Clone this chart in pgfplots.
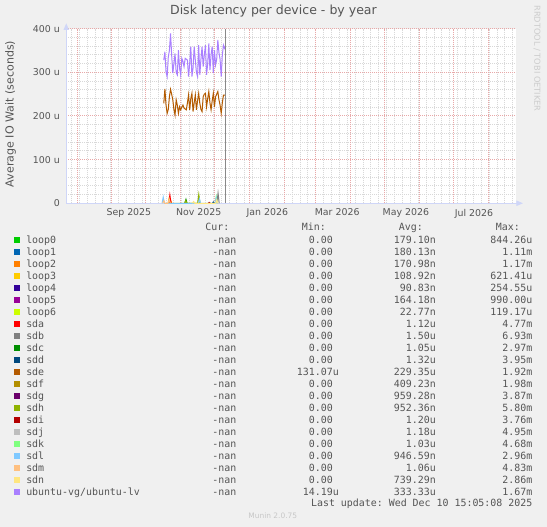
\documentclass[border=0pt]{standalone}
\usepackage{fontspec}
\setmainfont{DejaVu Sans}
\setmonofont{DejaVu Sans Mono}
\usepackage{pgfplots}
\pgfplotsset{compat=1.18}
\usetikzlibrary{arrows.meta}

\definecolor{bg}{HTML}{F0F0F0}
\definecolor{fontc}{HTML}{555555}
\definecolor{axisc}{HTML}{CFD6F8}
\definecolor{mgrid}{HTML}{E8A8A8}
\definecolor{ngrid}{HTML}{D8D8D8}
\definecolor{nowc}{HTML}{888888}
% munin palette
\definecolor{cloopA}{HTML}{00CC00}
\definecolor{cloopB}{HTML}{0066B3}
\definecolor{cloopC}{HTML}{FF8000}
\definecolor{cloopD}{HTML}{FFCC00}
\definecolor{cloopE}{HTML}{330099}
\definecolor{cloopF}{HTML}{990099}
\definecolor{cloopG}{HTML}{CCFF00}
\definecolor{csda}{HTML}{FF0000}
\definecolor{csdb}{HTML}{808080}
\definecolor{csdc}{HTML}{008F00}
\definecolor{csdd}{HTML}{00487D}
\definecolor{csde}{HTML}{B35A00}
\definecolor{csdf}{HTML}{B38F00}
\definecolor{csdg}{HTML}{6B006B}
\definecolor{csdh}{HTML}{8FB300}
\definecolor{csdi}{HTML}{B30000}
\definecolor{csdj}{HTML}{BEBEBE}
\definecolor{csdk}{HTML}{80FF80}
\definecolor{csdl}{HTML}{80C9FF}
\definecolor{csdm}{HTML}{FFC080}
\definecolor{csdn}{HTML}{FFE680}
\definecolor{clv}{HTML}{AA80FF}

% legend row: index, colour, name, min, avg, max
\newcommand\legrow[6]{%
  \fill[#2] (14,{527-240-12*#1-3}) rectangle ++(6,6);
  \node[anchor=base west] at (26,{283.4-12*#1}) {#3};
  \node[anchor=base east] at (236.5,{283.4-12*#1}) {-nan};
  \node[anchor=base east] at (339,{283.4-12*#1}) {#4};
  \node[anchor=base east] at (436,{283.4-12*#1}) {#5};
  \node[anchor=base east] at (532.6,{283.4-12*#1}) {#6};
}

\begin{document}
\begin{tikzpicture}
\begin{scope}[x=0.75pt,y=0.75pt]
\fill[bg] (0,0) rectangle (547,527);
\end{scope}

\begin{axis}[
at={(49.7pt,242.8pt)}, anchor=south west,
scale only axis,
width=337.3pt, height=130.95pt,
xmin=-40.6, xmax=358.8,
ymin=0, ymax=400,
axis background/.style={fill=white},
axis x line=bottom, axis y line=left,
axis line style={draw=axisc, line width=0.75pt},
x axis line style={-{Triangle[length=5pt,width=4pt]}, shorten >=-5.25pt},
y axis line style={-{Triangle[length=5pt,width=4pt]}, shorten >=-4pt},
major tick length=0pt, minor tick length=0pt,
tick style={draw=none},
xtick={15,77,138,200,261,321.5},
xticklabels={Sep 2025,Nov 2025,Jan 2026,Mar 2026,May 2026,Jul 2026},
minor xtick={-36,-29,...,356},
extra x ticks={-31,0,30,61,91,122,153,181,212,242,273,303,334},
extra x tick labels={},
extra x tick style={grid=major},
ytick={0,100,200,300,400},
yticklabels={0,100 u,200 u,300 u,400 u},
minor ytick={20,40,...,380},
xmajorgrids=false, xminorgrids=true,
ymajorgrids=true, yminorgrids=true,
major grid style={draw=mgrid, dash pattern=on 0.75pt off 0.75pt, line width=0.75pt},
minor grid style={draw=ngrid, dash pattern=on 0.75pt off 0.75pt, line width=0.75pt},
/pgf/number format/assume math mode=true,
ticklabel style={font=\fontsize{7.05}{8}\selectfont, text=fontc, inner sep=0pt},
xticklabel shift=4pt,
yticklabel shift=4.7pt,
title={Disk latency per device - by year},
title style={at={(0.4607,1.0556)}, anchor=center, inner sep=0pt,
  font=\fontsize{9.4}{11}\selectfont, text=fontc},
ylabel={Average IO Wait (seconds)},
ylabel style={at={(-0.1241,0.5115)}, anchor=center, inner sep=0pt,
  font=\fontsize{8.3}{10}\selectfont, text=fontc},
]
% small spikes of the other devices (values in microseconds)
\addplot [color=cloopC, line width=0.75pt] coordinates {(51,0)(52,8)(53,0)};
\addplot [color=cloopD, line width=0.75pt] coordinates {(49.8,0)(50.8,12)(51.8,0)(76.2,0)(77.2,13)(78.2,0)};
\addplot [color=csda, line width=0.75pt] coordinates {(50.4,0)(51.4,19)(52.4,0)};
\addplot [color=csdb, line width=0.75pt] coordinates {(93.2,0)(94.2,23)(95.2,0)};
\addplot [color=csdc, line width=0.75pt] coordinates {(64.7,0)(65.7,9)(66.7,0)};
\addplot [color=csdd, line width=0.75pt] coordinates {(89.1,0)(90.1,3)(91.1,0)};
\addplot [color=csde, line width=0.75pt]
  table[row sep=crcr]{
46 229\\ 47 262\\ 48 225\\ 49 206\\ 50 215\\ 51 244\\ 52 261\\ 53 250\\
54 237\\ 55 215\\ 56 202\\ 57 237\\ 58 225\\ 59 206\\ 60 221\\ 61 214\\
62 220\\ 63 225\\ 64 218\\ 65 216\\ 66 214\\ 67 230\\ 68 248\\ 69 214\\
70 240\\ 71 252\\ 72 210\\ 73 230\\ 74 248\\ 75 214\\ 76 235\\ 77 252\\
78 229\\ 79 215\\ 80 210\\ 81 244\\ 82 250\\ 83 252\\ 84 221\\ 85 240\\
86 256\\ 87 230\\ 88 214\\ 89 235\\ 90 252\\ 91 221\\ 92 244\\ 93 250\\
94 256\\ 95 237\\ 96 225\\ 97 206\\ 98 230\\ 99 248\\ 100 248\\ 100.8 248\\
};
\addplot [color=csdh, line width=0.75pt] coordinates {(64.5,0)(65.5,6)(66.5,0)(76.1,0)(77.1,20)(78.1,0)};
\addplot [color=csdi, line width=0.75pt] coordinates {(85.4,0)(86.4,2)(87.4,0)};
\addplot [color=csdk, line width=0.75pt] coordinates {(91.6,0)(92.6,15)(93.6,0)};
\addplot [color=csdl, line width=0.75pt] coordinates {(44.5,0)(45.5,14)(46.5,0)(76.7,0)(77.7,10)(78.7,0)(91.6,0)(92.6,12)(93.6,0)};
\addplot [color=csdm, line width=0.75pt] coordinates {(45,0)(46.1,6)(47,0)(49.8,0)(50.8,10)(51.8,0)};
\addplot [color=csdn, line width=0.75pt] coordinates {(71.5,0)(72.5,4)(73.5,0)(92,0)(93,8)(94,0)};
\addplot [color=clv, line width=0.75pt]
  table[row sep=crcr]{
46 328\\ 47 347\\ 48 300\\ 49 290\\ 50 335\\ 51 350\\ 52 389\\ 53 340\\
54 298\\ 55 320\\ 56 343\\ 57 300\\ 58 294\\ 59 351\\ 60 310\\ 61 294\\
62 332\\ 63 325\\ 64 313\\ 65 332\\ 66 330\\ 67 328\\ 68 290\\ 69 320\\
70 359\\ 71 290\\ 72 310\\ 73 359\\ 74 328\\ 75 300\\ 76 290\\ 77 362\\
78 294\\ 79 330\\ 80 359\\ 81 313\\ 82 340\\ 83 362\\ 84 294\\ 85 320\\
86 366\\ 87 305\\ 88 340\\ 89 359\\ 90 298\\ 91 351\\ 92 317\\ 93 330\\
94 374\\ 95 345\\ 96 330\\ 97 290\\ 98 340\\ 99 362\\ 100 355\\ 100.8 360\\
};
% last update marker
\addplot [color=nowc, line width=0.75pt] coordinates {(101,0)(101,400)};
\end{axis}

\begin{scope}[x=0.75pt,y=0.75pt]
\node[rotate=-90, text=black!20, font=\fontsize{6.2}{7}\selectfont, inner sep=0pt] at (537,468.5) {RRDTOOL / TOBI OETIKER};
\begin{scope}[font=\ttfamily\fontsize{7.45}{9}\selectfont, text=fontc, every node/.style={inner sep=0pt}]
\node[anchor=base east] at (229.5,296.1) {Cur:};
\node[anchor=base east] at (326,296.1) {Min:};
\node[anchor=base east] at (423,296.1) {Avg:};
\node[anchor=base east] at (520,296.1) {Max:};
\legrow{0}{cloopA}{loop0}{0.00\phantom{u}}{179.10n}{844.26u}
\legrow{1}{cloopB}{loop1}{0.00\phantom{u}}{180.13n}{1.11m}
\legrow{2}{cloopC}{loop2}{0.00\phantom{u}}{170.98n}{1.17m}
\legrow{3}{cloopD}{loop3}{0.00\phantom{u}}{108.92n}{621.41u}
\legrow{4}{cloopE}{loop4}{0.00\phantom{u}}{90.83n}{254.55u}
\legrow{5}{cloopF}{loop5}{0.00\phantom{u}}{164.18n}{990.00u}
\legrow{6}{cloopG}{loop6}{0.00\phantom{u}}{22.77n}{119.17u}
\legrow{7}{csda}{sda}{0.00\phantom{u}}{1.12u}{4.77m}
\legrow{8}{csdb}{sdb}{0.00\phantom{u}}{1.50u}{6.93m}
\legrow{9}{csdc}{sdc}{0.00\phantom{u}}{1.05u}{2.97m}
\legrow{10}{csdd}{sdd}{0.00\phantom{u}}{1.32u}{3.95m}
\legrow{11}{csde}{sde}{131.07u}{229.35u}{1.92m}
\legrow{12}{csdf}{sdf}{0.00\phantom{u}}{409.23n}{1.98m}
\legrow{13}{csdg}{sdg}{0.00\phantom{u}}{959.28n}{3.87m}
\legrow{14}{csdh}{sdh}{0.00\phantom{u}}{952.36n}{5.80m}
\legrow{15}{csdi}{sdi}{0.00\phantom{u}}{1.20u}{3.76m}
\legrow{16}{csdj}{sdj}{0.00\phantom{u}}{1.18u}{4.95m}
\legrow{17}{csdk}{sdk}{0.00\phantom{u}}{1.03u}{4.68m}
\legrow{18}{csdl}{sdl}{0.00\phantom{u}}{946.59n}{2.96m}
\legrow{19}{csdm}{sdm}{0.00\phantom{u}}{1.06u}{4.83m}
\legrow{20}{csdn}{sdn}{0.00\phantom{u}}{739.29n}{2.86m}
\legrow{21}{clv}{ubuntu-vg/ubuntu-lv}{14.19u}{333.33u}{1.67m}
\node[anchor=base east] at (532.6,20.2) {Last update: Wed Dec 10 15:05:08 2025};
\end{scope}
\node[text=black!22, font=\fontsize{5.6}{7}\selectfont, inner sep=0pt] at (272.8,11) {Munin 2.0.75};
\end{scope}
\end{tikzpicture}
\end{document}
